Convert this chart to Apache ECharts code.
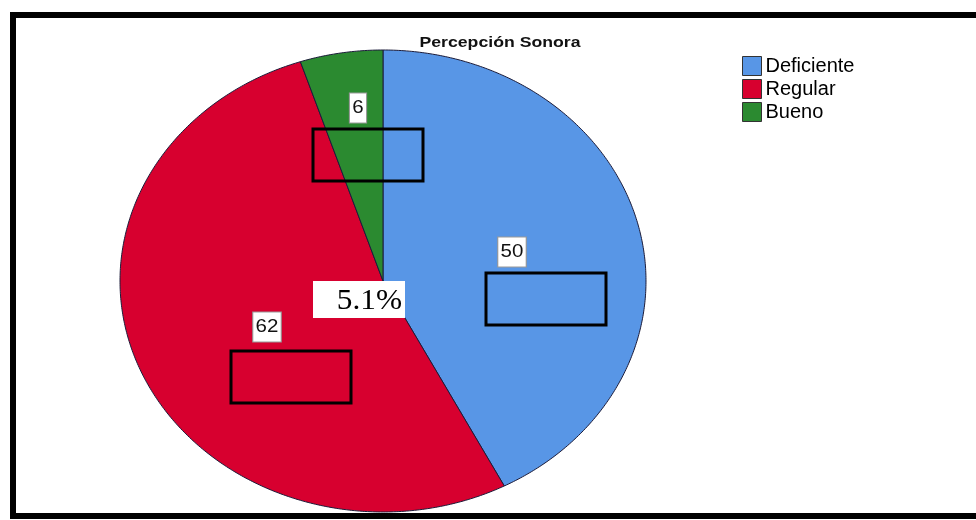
<!DOCTYPE html>
<html>
<head>
    <meta charset="UTF-8">
    <style type="text/css">
        html, body { margin: 0; padding: 0; background: #fff; }
        #chart { width: 976px; height: 520px; }
    </style>
</head>
<body>
    <div id="chart"></div>
    <script src="https://cdn.jsdelivr.net/npm/echarts@6/dist/echarts.min.js"></script>
    <script type="text/javascript">
        'use strict';
        var categories = ['Deficiente', 'Regular', 'Bueno'];
        var counts = [50, 62, 6];
        var colors = ['#5896E6', '#D7002F', '#2B8A30'];
        var titleText = 'Percepción Sonora';
        var noteText = '5.1%';

        // where SPSS put the count labels (pixels)
        var labelPos = [[512, 252], [267, 327], [358, 108]];

        var total = counts.reduce(function (a, b) { return a + b; }, 0);
        // the original picture is stretched sideways, so the pie is an ellipse
        var cx = 383, cy = 281, rx = 263, ry = 231;
        var stretch = 1.14;

        function ellipsePt(t) {
            return [cx + rx * Math.sin(t), cy - ry * Math.cos(t)];
        }

        function makeRender(idx) {
            return function (params, api) {
                var before = 0;
                for (var i = 0; i < idx; i++) before += counts[i];
                var a0 = before / total * Math.PI * 2;
                var a1 = (before + api.value(0)) / total * Math.PI * 2;
                var pts = [[cx, cy]];
                var steps = Math.max(8, Math.ceil((a1 - a0) / 0.01));
                for (var s = 0; s <= steps; s++) {
                    pts.push(ellipsePt(a0 + (a1 - a0) * s / steps));
                }
                return {
                    type: 'polygon',
                    shape: { points: pts },
                    style: { fill: colors[idx], stroke: '#1c1c3a', lineWidth: 1 }
                };
            };
        }

        function makeLabelRender(idx) {
            return function (params, api) {
                return {
                    type: 'text',
                    x: labelPos[idx][0],
                    y: labelPos[idx][1],
                    scaleX: stretch,
                    z2: 100,
                    style: {
                        text: String(api.value(0)),
                        x: 0,
                        y: 0,
                        align: 'center',
                        verticalAlign: 'middle',
                        font: '18px "Liberation Sans", Arial, sans-serif',
                        fill: '#111',
                        backgroundColor: '#fff',
                        borderColor: '#999',
                        borderWidth: 1,
                        padding: [6, 2, 5, 2]
                    }
                };
            };
        }

        var series = categories.map(function (name, i) {
            return {
                type: 'custom',
                name: name,
                coordinateSystem: 'none',
                itemStyle: { color: colors[i] },
                renderItem: makeRender(i),
                data: [[counts[i]]],
                silent: true
            };
        });
        categories.forEach(function (name, i) {
            series.push({
                type: 'custom',
                name: name + '-label',
                coordinateSystem: 'none',
                renderItem: makeLabelRender(i),
                data: [[counts[i]]],
                z: 5,
                silent: true
            });
        });

        var boxStyle = { fill: 'none', stroke: '#000', lineWidth: 3 };

        var chart = echarts.init(document.getElementById('chart'), null, { renderer: 'canvas' });
        chart.setOption({
            animation: false,
            backgroundColor: '#fff',
            legend: {
                data: categories,
                orient: 'vertical',
                left: 737,
                top: 51,
                itemWidth: 19,
                itemHeight: 19,
                itemGap: 3,
                icon: 'rect',
                itemStyle: { borderColor: '#333', borderWidth: 1 },
                textStyle: {
                    fontFamily: '"Liberation Sans", Arial, sans-serif',
                    fontSize: 20,
                    color: '#000',
                    padding: [0, 0, 0, -1]
                },
                selectedMode: false
            },
            graphic: [
                {
                    type: 'text', x: 500, y: 43, scaleX: stretch, z: 100,
                    style: {
                        text: titleText, x: 0, y: 0, align: 'center', verticalAlign: 'middle',
                        font: 'bold 15.5px "Liberation Sans", Arial, sans-serif', fill: '#111'
                    }
                },
                { type: 'rect', shape: { x: 13, y: 15, width: 980, height: 501 }, style: { fill: 'none', stroke: '#000', lineWidth: 6 }, z: 100 },
                { type: 'rect', shape: { x: 313, y: 129, width: 110, height: 52 }, style: boxStyle, z: 100 },
                { type: 'rect', shape: { x: 486, y: 273, width: 120, height: 52 }, style: boxStyle, z: 100 },
                { type: 'rect', shape: { x: 231, y: 351, width: 120, height: 52 }, style: boxStyle, z: 100 },
                { type: 'rect', shape: { x: 313, y: 281, width: 92, height: 37 }, style: { fill: '#fff' }, z: 100 },
                {
                    type: 'text', x: 402, y: 301, scaleX: 1.08, z: 101,
                    style: {
                        text: noteText, x: 0, y: 0, align: 'right', verticalAlign: 'middle',
                        font: '29px "Liberation Serif", "Times New Roman", serif', fill: '#000'
                    }
                }
            ],
            series: series
        });
    </script>
</body>
</html>
